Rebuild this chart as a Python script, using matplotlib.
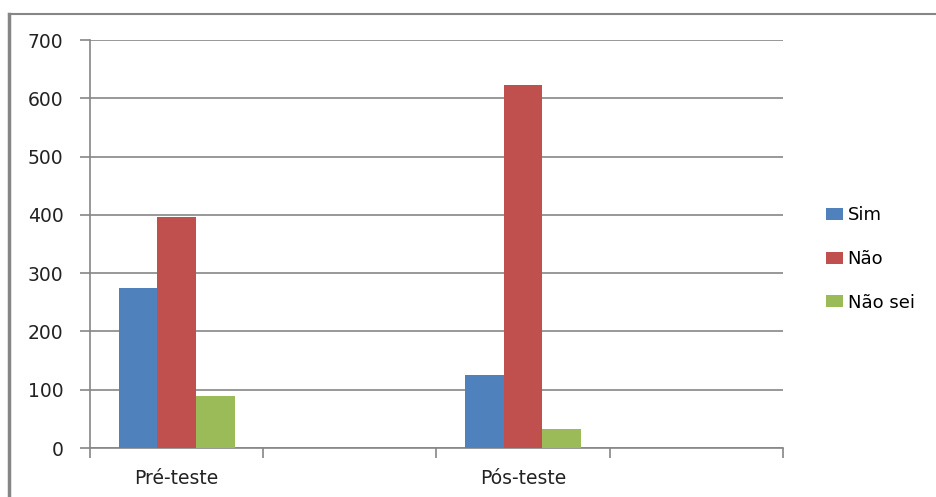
import numpy as np
import matplotlib.pyplot as plt
from matplotlib.lines import Line2D

categories = ['Pré-teste', '', 'Pós-teste', '']
series = ['Sim', 'Não', 'Não sei']
sim = [274, 0, 125, 0]
nao = [396, 0, 622, 0]
nao_sei = [89, 0, 33, 0]
colors = ['#4F81BD', '#C0504D', '#9BBB59']

plt.rcParams['font.family'] = ['DejaVu Sans']

fig = plt.figure(figsize=(9.37, 4.97), dpi=100)
ax = fig.add_axes([90 / 937, 1 - 448 / 497, 693 / 937, 408 / 497])

x = np.arange(len(categories))
w = 0.223
for i, (vals, name) in enumerate(zip([sim, nao, nao_sei], series)):
    ax.bar(x + (i - 1) * w, vals, w, color=colors[i], label=name, zorder=3)

ax.set_xlim(-0.5, len(categories) - 0.5)
ax.set_ylim(0, 700)
ax.set_yticks(range(0, 701, 100))
ax.yaxis.grid(True, color='#868686', linewidth=1.2, zorder=0)
ax.set_axisbelow(True)

ax.set_xticks(x)
ax.set_xticklabels(categories)
ax.set_xticks(np.arange(-0.5, len(categories), 1), minor=True)
ax.tick_params(axis='x', which='major', length=0, pad=15, labelsize=13.5, labelcolor='#222222')
ax.tick_params(axis='x', which='minor', length=7, width=1.2, color='#868686')
ax.tick_params(axis='y', length=7, width=1.2, color='#868686', pad=12, labelsize=13.5, labelcolor='#222222')

for s in ['top', 'right']:
    ax.spines[s].set_visible(False)
for s in ['left', 'bottom']:
    ax.spines[s].set_color('#868686')
    ax.spines[s].set_linewidth(1.2)

ax.legend(loc='center left', bbox_to_anchor=(826 / 937, 1 - 259 / 497),
          bbox_transform=fig.transFigure, frameon=False, fontsize=13,
          handlelength=0.95, handleheight=0.67, handletextpad=0.25,
          labelspacing=1.42, borderpad=0, borderaxespad=0)

# chart frame (cropped)
fig.add_artist(Line2D([9.5 / 937, 936 / 937], [1 - 14 / 497, 1 - 14 / 497],
                      transform=fig.transFigure, color='#868686', linewidth=1.5))
fig.add_artist(Line2D([9.5 / 937, 9.5 / 937], [0, 1 - 14 / 497],
                      transform=fig.transFigure, color='#868686', linewidth=2.5))

fig.savefig('out.png', dpi=100)
